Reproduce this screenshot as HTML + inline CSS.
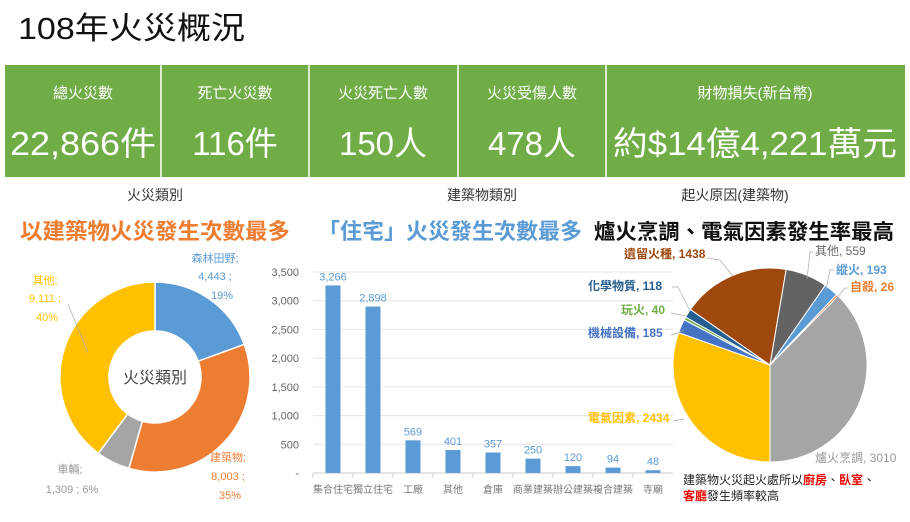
<!DOCTYPE html>
<html><head><meta charset="utf-8"><style>
body{margin:0;width:910px;height:522px;background:#fff;overflow:hidden;font-family:"Liberation Sans","Noto Sans CJK TC",sans-serif;}
svg{position:absolute;left:0;top:0}
</style></head><body>
<svg id="s" width="910" height="522" xmlns="http://www.w3.org/2000/svg" font-family="Liberation Sans, Noto Sans CJK TC, sans-serif">
<text x="18" y="39" font-size="31" fill="#111" textLength="227" lengthAdjust="spacingAndGlyphs">108年火災概況</text>
<rect x="5" y="65" width="900" height="112" fill="#70ad47"/>
<g stroke="#fff" stroke-width="1.5"><line x1="161" y1="65" x2="161" y2="177"/><line x1="309" y1="65" x2="309" y2="177"/><line x1="458" y1="65" x2="458" y2="177"/><line x1="606" y1="65" x2="606" y2="177"/></g>
<g fill="#fff" text-anchor="middle" font-size="15">
<text x="83" y="98">總火災數</text><text x="235" y="98">死亡火災數</text><text x="383" y="98">火災死亡人數</text><text x="532" y="98">火災受傷人數</text><text x="755" y="98">財物損失(新台幣)</text>
</g>
<g fill="#fff" text-anchor="middle" font-size="33">
<text x="83" y="155" textLength="146" lengthAdjust="spacingAndGlyphs">22,866件</text><text x="235" y="155">116件</text><text x="383" y="155">150人</text><text x="532" y="155">478人</text><text x="755" y="155" textLength="284" lengthAdjust="spacingAndGlyphs">約$14億4,221萬元</text>
</g>
<g font-size="14" fill="#333" text-anchor="middle"><text x="155" y="200">火災類別</text><text x="482" y="200">建築物類別</text><text x="735" y="200">起火原因(建築物)</text></g>
<text x="20" y="239" font-size="22" font-weight="bold" fill="#ed7d31" textLength="270" lengthAdjust="spacingAndGlyphs">以建築物火災發生次數最多</text>
<text x="318" y="239" font-size="22" font-weight="bold" fill="#5b9bd5" textLength="264" lengthAdjust="spacingAndGlyphs">「住宅」火災發生次數最多</text>
<text x="594" y="239" font-size="21" font-weight="bold" fill="#111" textLength="300" lengthAdjust="spacingAndGlyphs">爐火烹調、電氣因素發生率最高</text>
<g id="donut"></g>
<text x="155" y="383" font-size="16" fill="#444" text-anchor="middle">火災類別</text>
<g font-size="11" fill="#5b9bd5" text-anchor="middle"><text x="215" y="262">森林田野;</text><text x="215" y="280">4,443 ;</text><text x="222" y="299">19%</text></g>
<g font-size="11" fill="#ffc000" text-anchor="middle"><text x="45" y="284">其他;</text><text x="45" y="302">9,111 ;</text><text x="47" y="321">40%</text></g>
<g font-size="11" fill="#ed7d31" text-anchor="middle"><text x="228" y="461">建築物;</text><text x="228" y="480">8,003 ;</text><text x="230" y="499">35%</text></g>
<g font-size="11" fill="#999" text-anchor="middle"><text x="70" y="473">車輛;</text><text x="72" y="493">1,309 ; 6%</text></g>
<line x1="68" y1="304" x2="88" y2="353" stroke="#aaa" stroke-width="0.7"/>
<g id="bars"></g>
<g id="pie"></g>
<g font-size="12" font-weight="bold">
<text x="624" y="258" fill="#9e480e">遺留火種, 1438</text>
<text x="588" y="290" fill="#255e91">化學物質, 118</text>
<text x="621" y="314" fill="#70ad47">玩火, 40</text>
<text x="588" y="337" fill="#4472c4">機械設備, 185</text>
<text x="588" y="422" fill="#ffc000">電氣因素, 2434</text>
<text x="815" y="255" fill="#666" font-weight="normal">其他, 559</text>
<text x="836" y="274" fill="#5b9bd5">縱火, 193</text>
<text x="850" y="291" fill="#ed7d31">自殺, 26</text>
<text x="815" y="462" fill="#999" font-weight="normal">爐火烹調, 3010</text>
</g>
<g stroke="#aaa" stroke-width="0.7" fill="none">
<polyline points="707,258 720,260 733,276"/><polyline points="672,287 678,287 690,311"/><polyline points="671,313 686,316"/><polyline points="671,335 678,333 684,330"/><polyline points="673,421 684,419"/><polyline points="813,252 810,252 807,279"/><polyline points="834,270 830,270 826,290"/><polyline points="848,288 845,288 835,300"/>
</g>
<text x="683" y="484" font-size="12" fill="#222">建築物火災起火處所以<tspan fill="#e00" font-weight="bold">廚房</tspan>、<tspan fill="#e00" font-weight="bold">臥室</tspan>、</text>
<text x="683" y="500" font-size="12" fill="#222"><tspan fill="#e00" font-weight="bold">客廳</tspan>發生頻率較高</text>
</svg>
<script>
var NS="http://www.w3.org/2000/svg";
function el(p,t,a,txt){var e=document.createElementNS(NS,t);for(var k in a)e.setAttribute(k,a[k]);if(txt!==undefined)e.textContent=txt;p.appendChild(e);return e;}
function pt(cx,cy,r,a){var rad=(a-90)*Math.PI/180;return [cx+r*Math.cos(rad),cy+r*Math.sin(rad)];}
var d=document.getElementById('donut'),cx=155,cy=377,R=95,r=46;
var vals=[[4443,'#5b9bd5'],[8003,'#ed7d31'],[1309,'#a5a5a5'],[9111,'#ffc000']],tot=22866,a=0;
vals.forEach(function(v){var b=a+v[0]/tot*360,l=(b-a)>180?1:0;var p1=pt(cx,cy,R,a),p2=pt(cx,cy,R,b),p3=pt(cx,cy,r,b),p4=pt(cx,cy,r,a);
el(d,'path',{d:'M'+p1+' A'+R+','+R+' 0 '+l+' 1 '+p2+' L'+p3+' A'+r+','+r+' 0 '+l+' 0 '+p4+'Z',fill:v[1],stroke:'#fff','stroke-width':1.5});a=b;});
var g=document.getElementById('bars'),y0=473,sc=201/3500,x0=313,w=40;
for(var i=0;i<=7;i++){var y=y0-i*500*sc;if(i>0)el(g,'line',{x1:x0,x2:673,y1:y,y2:y,stroke:'#e5e5e5'});el(g,'text',{x:299,y:y+4,'font-size':11,fill:'#666','text-anchor':'end'},i==0?'-':(i*500).toLocaleString('en-US'));}
el(g,'line',{x1:x0,x2:673,y1:y0,y2:y0,stroke:'#ccc'});
var bd=[['集合住宅',3266],['獨立住宅',2898],['工廠',569],['其他',401],['倉庫',357],['商業建築',250],['辦公建築',120],['複合建築',94],['寺廟',48]];
bd.forEach(function(b,i){var cxx=x0+w*i+w/2,h=b[1]*sc;el(g,'rect',{x:cxx-7.5,y:y0-h,width:15,height:h,fill:'#5b9bd5'});
el(g,'text',{x:cxx,y:y0-h-5,'font-size':11,fill:'#5b9bd5','text-anchor':'middle'},b[1].toLocaleString('en-US'));
el(g,'line',{x1:x0+w*i,x2:x0+w*i,y1:y0,y2:y0+5,stroke:'#ccc'});
var at={x:cxx,y:493,'font-size':10,fill:'#777','text-anchor':'middle'};
if(b[0].length==4){at.textLength=40;at.lengthAdjust='spacingAndGlyphs';}
el(g,'text',at,b[0]);});
var p=document.getElementById('pie'),px=770,py=365,pr=97;
var pv=[[3010,'#a5a5a5'],[2434,'#ffc000'],[185,'#4472c4'],[40,'#70ad47'],[118,'#255e91'],[1438,'#9e480e'],[559,'#636363'],[193,'#5b9bd5'],[26,'#ed7d31']],pt2=8003,aa=44.6;
pv.forEach(function(v){var b=aa+v[0]/pt2*360,l=(b-aa)>180?1:0;var p1=pt(px,py,pr,aa),p2=pt(px,py,pr,b);
el(p,'path',{d:'M'+px+','+py+' L'+p1+' A'+pr+','+pr+' 0 '+l+' 1 '+p2+'Z',fill:v[1],stroke:'#fff','stroke-width':1});aa=b;});
</script>
</body></html>
